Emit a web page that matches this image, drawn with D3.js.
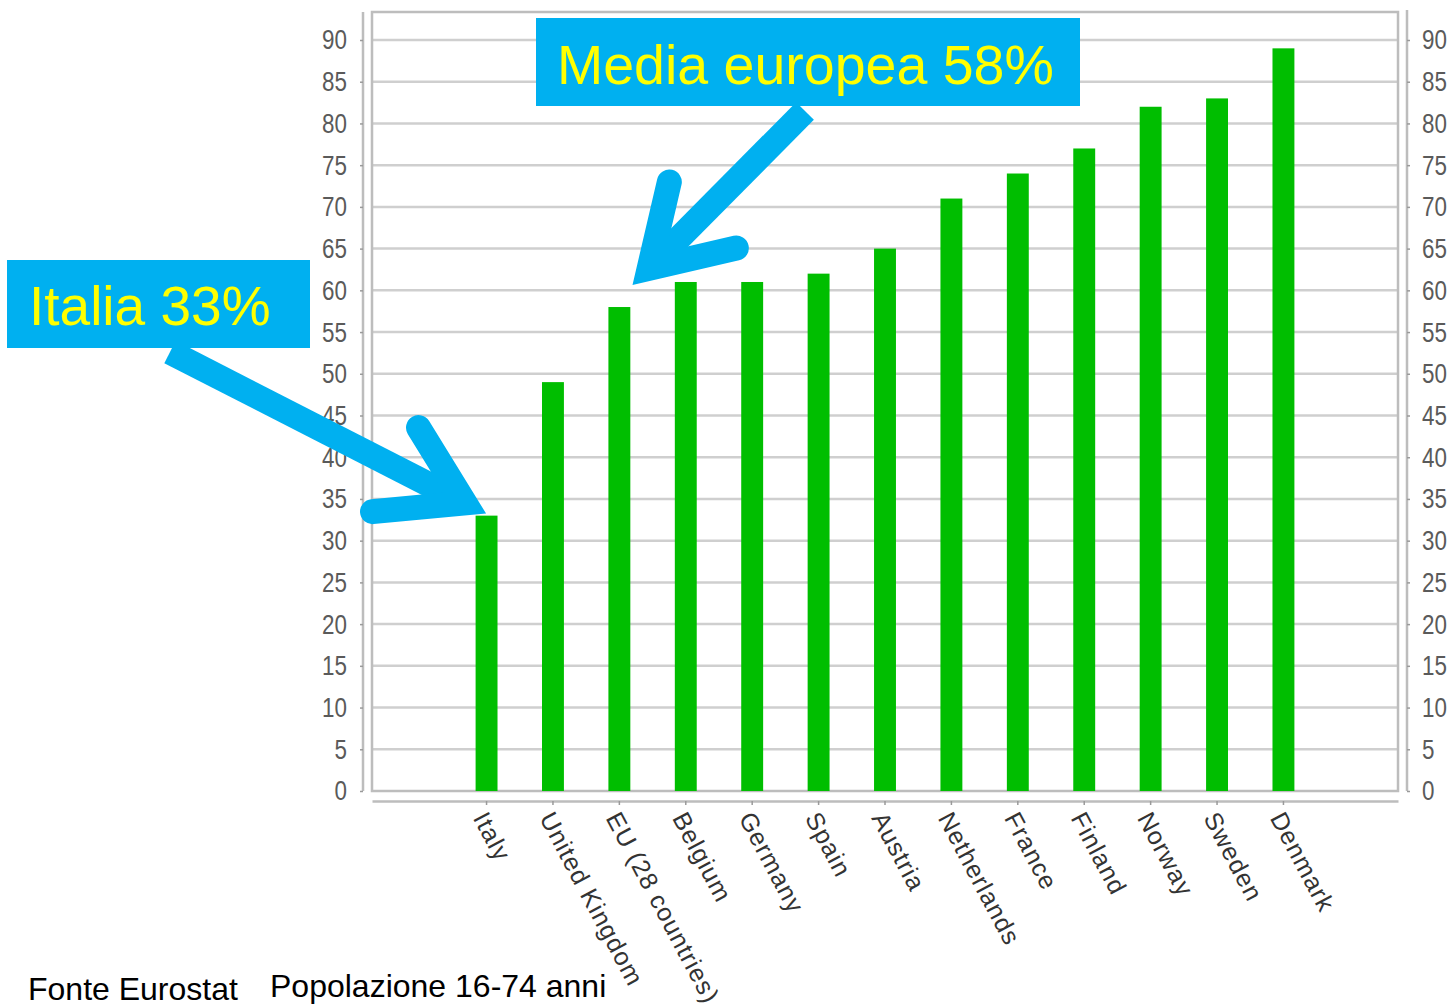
<!DOCTYPE html>
<html>
<head>
<meta charset="utf-8">
<script src="https://cdn.jsdelivr.net/npm/d3@7"></script>
<style>
  html, body { margin: 0; padding: 0; background: #ffffff; }
  svg { display: block; }
</style>
</head>
<body>
<svg id="chart" width="1450" height="1008"></svg>
<script>
// Share of population (16-74) by country, percent
const countries = ["Italy", "United Kingdom", "EU (28 countries)", "Belgium", "Germany", "Spain",
  "Austria", "Netherlands", "France", "Finland", "Norway", "Sweden", "Denmark"];
const values = [33, 49, 58, 61, 61, 62, 65, 71, 74, 77, 82, 83, 89];
const yTicks = [0, 5, 10, 15, 20, 25, 30, 35, 40, 45, 50, 55, 60, 65, 70, 75, 80, 85, 90];

const calloutItaly = { label: "Italia 33%", country: "Italy", value: 33 };
const calloutEU = { label: "Media europea 58%", country: "EU (28 countries)", value: 58 };
const footSource = "Fonte Eurostat";
const footPopulation = "Popolazione 16-74 anni";

const svg = d3.select("#chart");

const plot = { left: 372, right: 1398, top: 12, bottom: 791 };

const x = d3.scaleBand()
  .domain(countries)
  .range([plot.left, plot.right])
  .paddingInner(0.67)
  .paddingOuter(1.56);

const y = d3.scaleLinear()
  .domain([0, 90])
  .range([plot.bottom, 40]);

const gridColor = "#cfcfcf";
const frameColor = "#bdbdbd";
const sans = "'Liberation Sans', Arial, sans-serif";

// horizontal gridlines
svg.append("g")
  .selectAll("line")
  .data(yTicks.filter(t => t > 0))
  .join("line")
  .attr("x1", plot.left).attr("x2", plot.right)
  .attr("y1", d => y(d)).attr("y2", d => y(d))
  .attr("stroke", gridColor)
  .attr("stroke-width", 2.5);

// plot frame
svg.append("rect")
  .attr("x", plot.left).attr("y", plot.top)
  .attr("width", plot.right - plot.left)
  .attr("height", plot.bottom - plot.top)
  .attr("fill", "none")
  .attr("stroke", frameColor)
  .attr("stroke-width", 2.5);

// left and right value axes, offset from the frame; digits are condensed
function valueAxis(gen, xPos, side) {
  const g = svg.append("g")
    .attr("transform", `translate(${xPos},0)`)
    .call(gen.tickValues(yTicks).tickSize(3).tickPadding(12).tickFormat(d3.format("d")));
  g.select(".domain").attr("stroke", frameColor).attr("stroke-width", 2.5);
  g.selectAll(".tick line").attr("stroke", "#9a9a9a").attr("stroke-width", 1.5);
  const offset = side === "left" ? -16 : 15;
  g.selectAll(".tick text")
    .attr("fill", "#5a5a5a")
    .attr("font-family", sans)
    .attr("font-size", 28)
    .attr("x", 0)
    .attr("transform", `translate(${offset},0) scale(0.8,1)`);
  return g;
}
const leftAxis = valueAxis(d3.axisLeft(y), 363, "left");
const rightAxis = valueAxis(d3.axisRight(y), 1407, "right");
leftAxis.select(".domain").attr("d", `M0,${plot.top}V${plot.bottom}`);
rightAxis.select(".domain").attr("d", `M0,${plot.top - 2}V${plot.bottom}`);

// category axis below the frame
const xAxis = svg.append("g")
  .attr("transform", `translate(0,801)`)
  .call(d3.axisBottom(x).tickSize(4).tickSizeOuter(0));
xAxis.select(".domain").attr("stroke", frameColor).attr("stroke-width", 2.5);
xAxis.selectAll(".tick line").attr("stroke", "#9a9a9a").attr("stroke-width", 1.5);
xAxis.selectAll(".tick text")
  .attr("fill", "#333333")
  .attr("font-family", sans)
  .attr("font-size", 25)
  .attr("letter-spacing", 1.05)
  .attr("text-anchor", "start")
  .attr("dy", 0)
  .attr("y", 0)
  .attr("transform", "translate(-14,17) rotate(62)");

// bars
svg.append("g")
  .selectAll("rect")
  .data(countries.map((c, i) => ({ c, v: values[i] })))
  .join("rect")
  .attr("x", d => x(d.c))
  .attr("y", d => y(d.v))
  .attr("width", x.bandwidth())
  .attr("height", d => y(0) - y(d.v))
  .attr("fill", "#00be00");

// callout arrows: straight shaft plus a mitred two-stroke head
const calloutBlue = "#00b0f0";
const arrowWidth = 25;

function drawArrow(start, tip, arm1, arm2) {
  const norm = v => { const l = Math.hypot(v[0], v[1]); return [v[0] / l, v[1] / l]; };
  const u1 = norm([arm1[0] - tip[0], arm1[1] - tip[1]]);
  const u2 = norm([arm2[0] - tip[0], arm2[1] - tip[1]]);
  const b = norm([u1[0] + u2[0], u1[1] + u2[1]]);
  const half = Math.acos(u1[0] * u2[0] + u1[1] * u2[1]) / 2;
  const inset = (arrowWidth / 2) / Math.sin(half);
  const vertex = [tip[0] + b[0] * inset, tip[1] + b[1] * inset];
  const g = svg.append("g").attr("fill", "none").attr("stroke", calloutBlue).attr("stroke-width", arrowWidth);
  g.append("path")
    .attr("d", d3.line()([start, vertex]))
    .attr("stroke-linecap", "butt");
  g.append("path")
    .attr("d", d3.line()([arm1, vertex, arm2]))
    .attr("stroke-linecap", "round")
    .attr("stroke-linejoin", "miter")
    .attr("stroke-miterlimit", 10);
}

// Italy arrow ends at the top corner of its bar
const itTip = [x(calloutItaly.country) + x.bandwidth() - 5, y(calloutItaly.value) + 1];
drawArrow([170, 352], itTip, [itTip[0] - 74, itTip[1] - 89], [itTip[0] - 120, itTip[1] - 5]);

// EU arrow ends just above its bar
const euTip = [x(calloutEU.country) + x.bandwidth() - 3, y(calloutEU.value) - 17];
drawArrow([805, 111], euTip, [euTip[0] + 42, euTip[1] - 108], [euTip[0] + 109, euTip[1] - 42]);

// callout boxes
function callout(box, textX, baseline, size, label) {
  svg.append("rect")
    .attr("x", box[0]).attr("y", box[1])
    .attr("width", box[2]).attr("height", box[3])
    .attr("fill", calloutBlue);
  svg.append("text")
    .attr("x", textX).attr("y", baseline)
    .attr("fill", "#ffff00")
    .attr("font-family", sans)
    .attr("font-size", size)
    .text(label);
}
callout([7, 260, 303, 88], 29, 325, 55, calloutItaly.label);
callout([536, 18, 544, 88], 557, 84, 55.5, calloutEU.label);

// footnotes
svg.append("text")
  .attr("x", 28).attr("y", 1000)
  .attr("fill", "#000")
  .attr("font-family", sans)
  .attr("font-size", 32)
  .text(footSource);
svg.append("text")
  .attr("x", 270).attr("y", 997)
  .attr("fill", "#000")
  .attr("font-family", sans)
  .attr("font-size", 32)
  .text(footPopulation);
</script>
</body>
</html>
